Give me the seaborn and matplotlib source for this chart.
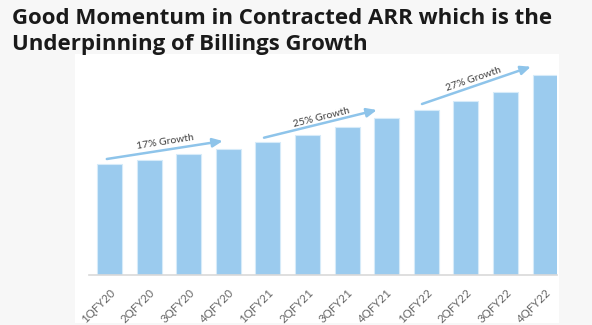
import matplotlib
matplotlib.use("Agg")
import matplotlib.pyplot as plt
import seaborn as sns
import pandas as pd

quarters = ["1QFY20", "2QFY20", "3QFY20", "4QFY20",
            "1QFY21", "2QFY21", "3QFY21", "4QFY21",
            "1QFY22", "2QFY22", "3QFY22", "4QFY22"]
contracted_arr = [111, 115, 120.5, 126, 133, 140, 147.5, 157, 165, 173.5, 183, 200]

growth_labels = ["17% Growth", "25% Growth", "27% Growth"]
# arrow start/end per fiscal year, in bar-index / value units
arrow_x0 = [-0.07, 3.90, 7.89]
arrow_y0 = [115.5, 136.8, 170.5]
arrow_x1 = [2.86, 6.75, 10.64]
arrow_y1 = [133.5, 164.5, 207.8]

title = "Good Momentum in Contracted ARR which is the\nUnderpinning of Billings Growth"

W, H = 592, 325
BG = "#f7f7f7"
BAR = "#9bcbee"
ARROW = "#8ec4ea"

sns.set_theme(style="white")
plt.rcParams["font.family"] = ["Lato", "DejaVu Sans"]

fig = plt.figure(figsize=(W / 100, H / 100), dpi=100, facecolor=BG)

def box(l, t, r, b):
    return [l / W, 1 - b / H, (r - l) / W, (b - t) / H]

# white panel behind the chart
panel = fig.add_axes(box(75, 54, 559, 323))
panel.set_facecolor("white")
panel.set_xticks([])
panel.set_yticks([])
for s in panel.spines.values():
    s.set_visible(False)

ax = fig.add_axes(box(89, 60, 557, 274.5))
ax.set_facecolor("none")
df = pd.DataFrame({"quarter": quarters, "arr": contracted_arr})
sns.barplot(data=df, x="quarter", y="arr", color=BAR, saturation=1,
            width=0.63, edgecolor="#d6ebf9", linewidth=0.8, ax=ax)
ax.set_xlim(-0.52, 11.30)
ax.set_ylim(0, 214.5)
ax.set_xlabel("")
ax.set_ylabel("")
ax.set_yticks([])
for side in ["left", "right", "top"]:
    ax.spines[side].set_visible(False)
ax.spines["bottom"].set_color("#d9d9d9")
ax.spines["bottom"].set_linewidth(1.2)
ax.tick_params(axis="x", length=0, pad=9)
for lab in ax.get_xticklabels():
    lab.set_rotation(45)
    lab.set_ha("right")
    lab.set_rotation_mode("anchor")
    lab.set_fontsize(8.3)
    lab.set_color("#666666")

text_pos = [(1.40, 132.5, 9), (5.34, 157.0, 14), (9.18, 195.5, 19)]
for i, lbl in enumerate(growth_labels):
    ax.annotate("", xy=(arrow_x1[i], arrow_y1[i]), xytext=(arrow_x0[i], arrow_y0[i]),
                arrowprops=dict(arrowstyle="-|>,head_length=0.5,head_width=0.22",
                                color=ARROW, lw=1.8, shrinkA=0, shrinkB=0))
    tx, ty, rot = text_pos[i]
    ax.text(tx, ty, lbl, rotation=rot, rotation_mode="anchor", ha="center",
            va="center", fontsize=7.5, color="#404040")

fig.text(12 / W, 1 - 8 / H, title, ha="left", va="top", fontsize=16,
         fontweight="bold", family=["Open Sans", "DejaVu Sans"], color="#1a1a1a",
         linespacing=1.32)

fig.savefig("out.png", dpi=100, facecolor=BG)
